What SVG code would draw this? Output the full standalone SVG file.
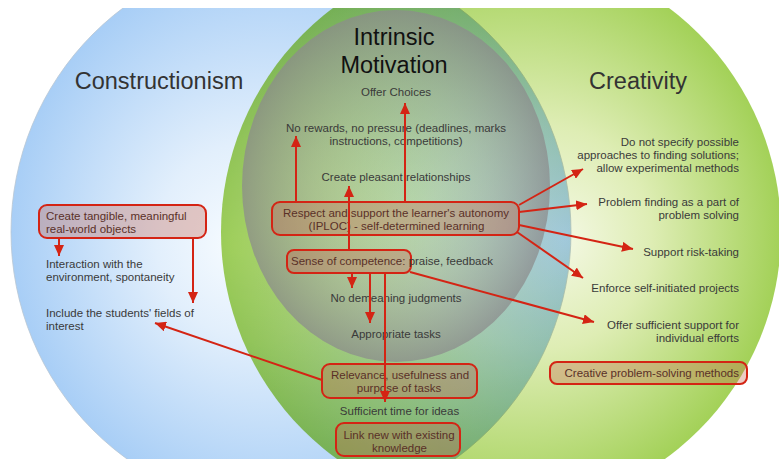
<svg xmlns="http://www.w3.org/2000/svg" width="779" height="459" viewBox="0 0 779 459">
  <defs>
    <clipPath id="frame">
      <rect x="0" y="8" width="779" height="451"/>
    </clipPath>
    <radialGradient id="blueFill" gradientUnits="userSpaceOnUse" cx="291" cy="232" r="280" fx="235" fy="245">
      <stop offset="0" stop-color="#f6fbff"/>
      <stop offset="0.35" stop-color="#e2effc"/>
      <stop offset="1" stop-color="#a8cef6"/>
    </radialGradient>
    <radialGradient id="greenFill" gradientUnits="userSpaceOnUse" cx="501" cy="232" r="280" fx="565" fy="240">
      <stop offset="0" stop-color="#f3f8e2"/>
      <stop offset="0.4" stop-color="#deedb4"/>
      <stop offset="1" stop-color="#a3d158"/>
    </radialGradient>
    <radialGradient id="grayFill" cx="0.5" cy="0.5" r="0.5" fx="0.55" fy="0.55">
      <stop offset="0" stop-color="#c4d8b0" stop-opacity="0.15"/>
      <stop offset="0.55" stop-color="#a8b0a0" stop-opacity="0.45"/>
      <stop offset="1" stop-color="#8c8c8c" stop-opacity="0.75"/>
    </radialGradient>
    <marker id="head" markerUnits="userSpaceOnUse" markerWidth="11" markerHeight="10" refX="11" refY="5" orient="auto">
      <path d="M0,0 L11,5 L0,10 Z" fill="#d42414"/>
    </marker>
    <style>
      text { font-family: "Liberation Sans", Arial, Helvetica, sans-serif; }
      .title { font-size: 23.5px; fill: #333333; }
      .mtitle { font-size: 23.5px; fill: #111111; }
      .t { font-size: 11.5px; fill: #3a3a3a; }
      .bt { font-size: 11.5px; fill: #5a3028; }
      .box { fill: #c86450; fill-opacity: 0.33; stroke: #d42414; stroke-width: 2; }
      .c { text-anchor: middle; }
      .r { text-anchor: end; }
      .link { fill: none; stroke: #d42414; stroke-width: 2; marker-end: url(#head); }
    </style>
  </defs>

  <!-- three overlapping fields -->
  <g id="fields" clip-path="url(#frame)">
    <circle id="constructionism-field" cx="291" cy="232" r="280" fill="url(#blueFill)" stroke="#b9c6d3" stroke-width="0.8"/>
    <circle id="creativity-field" cx="501" cy="232" r="280" fill="url(#greenFill)" style="mix-blend-mode: multiply"/>
    <ellipse id="motivation-field" cx="396" cy="186" rx="154" ry="176" fill="url(#grayFill)"/>
  </g>

  <!-- field titles -->
  <g id="titles">
    <text class="title c" x="159" y="89">Constructionism</text>
    <text class="title c" x="638" y="89">Creativity</text>
    <text class="mtitle c" x="394" y="45">Intrinsic</text>
    <text class="mtitle c" x="394" y="73">Motivation</text>
  </g>

  <!-- intrinsic motivation items -->
  <g id="offer-choices"><text class="t c" x="396" y="96">Offer Choices</text></g>
  <g id="no-rewards">
    <text class="t c" x="396" y="131.5">No rewards, no pressure (deadlines, marks</text>
    <text class="t c" x="396" y="144.5">instructions, competitions)</text>
  </g>
  <g id="pleasant"><text class="t c" x="396" y="181">Create pleasant relationships</text></g>
  <g id="autonomy">
    <rect class="box" x="272" y="202" width="247" height="33" rx="8"/>
    <text class="bt c" x="396" y="217">Respect and support the learner's autonomy</text>
    <text class="bt c" x="396.5" y="230">(IPLOC) - self-determined learning</text>
  </g>
  <g id="competence">
    <rect class="box" x="287" y="250" width="124" height="23" rx="7"/>
    <text class="t" x="291" y="265"><tspan fill="#5a3028">Sense of competence:</tspan> praise, feedback</text>
  </g>
  <g id="no-demeaning"><text class="t c" x="396" y="302">No demeaning judgments</text></g>
  <g id="appropriate"><text class="t c" x="396" y="338">Appropriate tasks</text></g>
  <g id="relevance">
    <rect class="box" x="322" y="364" width="155" height="34" rx="8"/>
    <text class="bt c" x="400" y="378.5">Relevance, usefulness and</text>
    <text class="bt c" x="399" y="391.5">purpose of tasks</text>
  </g>
  <g id="sufficient-time"><text class="t c" x="399.5" y="415">Sufficient time for ideas</text></g>
  <g id="link-knowledge">
    <rect class="box" x="336" y="423" width="124" height="33" rx="8"/>
    <text class="bt c" x="399" y="439">Link new with existing</text>
    <text class="bt c" x="399.5" y="452">knowledge</text>
  </g>

  <!-- constructionism items -->
  <g id="tangible-objects">
    <rect class="box" x="39" y="205" width="167" height="33" rx="8"/>
    <text class="bt" x="46" y="219.5">Create tangible, meaningful</text>
    <text class="bt" x="46" y="232.5">real-world objects</text>
  </g>
  <g id="interaction">
    <text class="t" x="46" y="267.5">Interaction with the</text>
    <text class="t" x="46" y="280.5">environment, spontaneity</text>
  </g>
  <g id="fields-of-interest">
    <text class="t" x="46" y="316.5">Include the students' fields of</text>
    <text class="t" x="46" y="329.5">interest</text>
  </g>

  <!-- creativity items -->
  <g id="approaches">
    <text class="t r" x="739" y="145.5">Do not specify possible</text>
    <text class="t r" x="739" y="158.5">approaches to finding solutions;</text>
    <text class="t r" x="739" y="171.5">allow experimental methods</text>
  </g>
  <g id="problem-finding">
    <text class="t r" x="739" y="206.3">Problem finding as a part of</text>
    <text class="t r" x="739" y="219.3">problem solving</text>
  </g>
  <g id="risk-taking"><text class="t r" x="739" y="256">Support risk-taking</text></g>
  <g id="self-initiated"><text class="t r" x="739" y="292">Enforce self-initiated projects</text></g>
  <g id="individual-support">
    <text class="t r" x="739" y="328.5">Offer sufficient support for</text>
    <text class="t r" x="739" y="341.5">individual efforts</text>
  </g>
  <g id="problem-solving-methods">
    <rect class="box" x="550" y="362" width="197" height="22" rx="7"/>
    <text class="bt r" x="739" y="377">Creative problem-solving methods</text>
  </g>

  <!-- connectors -->
  <g id="connectors">
    <line class="link" x1="296" y1="202" x2="296" y2="136"/>
    <line class="link" x1="405" y1="202" x2="405" y2="103"/>
    <line class="link" x1="349" y1="250" x2="349" y2="186"/>
    <line class="link" x1="519" y1="205" x2="583" y2="169"/>
    <line class="link" x1="519" y1="212" x2="587" y2="204"/>
    <line class="link" x1="519" y1="225" x2="633" y2="249"/>
    <line class="link" x1="517" y1="232" x2="583" y2="278"/>
    <line class="link" x1="352" y1="273" x2="352" y2="288"/>
    <line class="link" x1="370" y1="273" x2="370" y2="323"/>
    <line class="link" x1="385" y1="273" x2="385" y2="402"/>
    <line class="link" x1="410" y1="272" x2="594" y2="322"/>
    <line class="link" x1="322" y1="380" x2="155" y2="323"/>
    <line class="link" x1="59" y1="238" x2="59" y2="256"/>
    <line class="link" x1="193" y1="238" x2="193" y2="303"/>
  </g>
</svg>
